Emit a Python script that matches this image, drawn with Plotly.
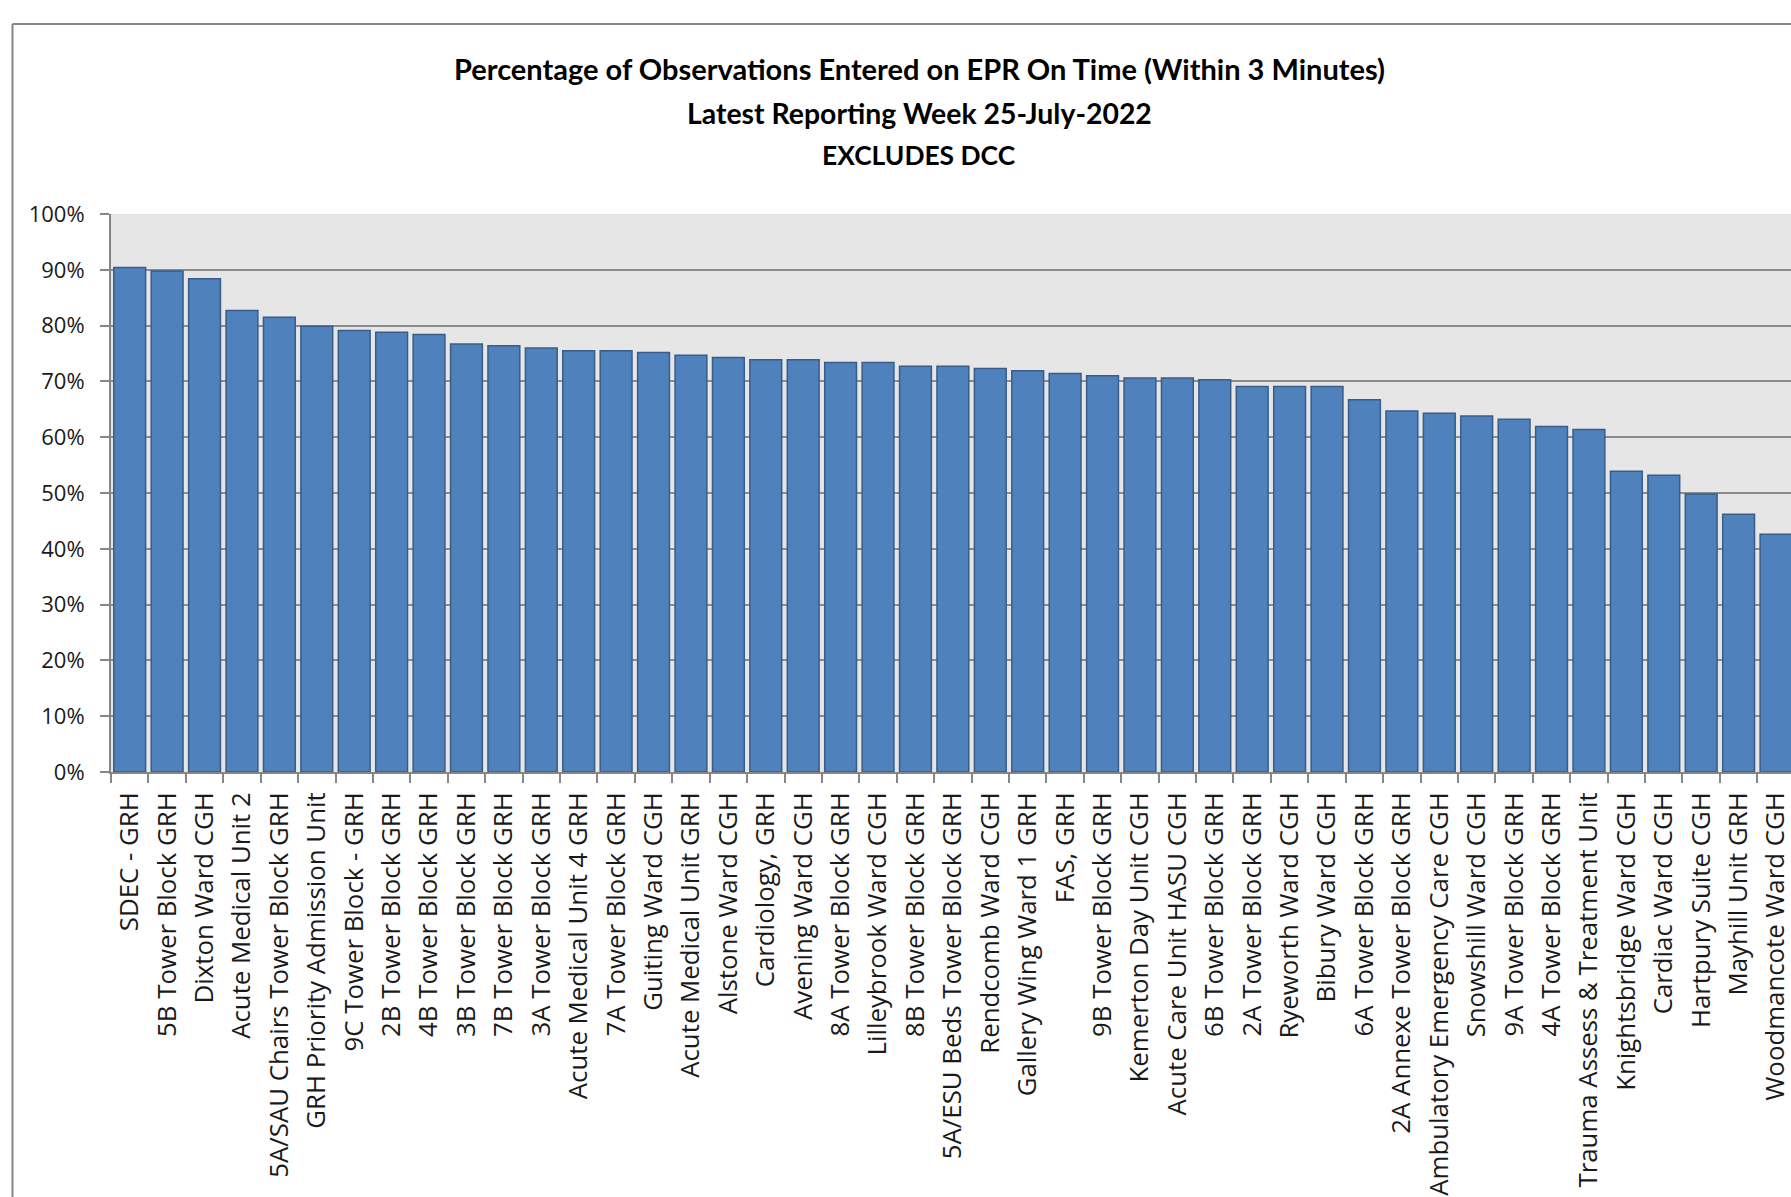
import plotly.graph_objects as go

categories = [
    "SDEC - GRH", "5B Tower Block GRH", "Dixton Ward CGH", "Acute Medical Unit 2",
    "5A/SAU Chairs Tower Block GRH", "GRH Priority Admission Unit", "9C Tower Block - GRH",
    "2B Tower Block GRH", "4B Tower Block GRH", "3B Tower Block GRH", "7B Tower Block GRH",
    "3A Tower Block GRH", "Acute Medical Unit 4 GRH", "7A Tower Block GRH", "Guiting Ward CGH",
    "Acute Medical Unit GRH", "Alstone Ward CGH", "Cardiology, GRH", "Avening Ward CGH",
    "8A Tower Block GRH", "Lilleybrook Ward CGH", "8B Tower Block GRH",
    "5A/ESU Beds Tower Block GRH", "Rendcomb Ward CGH", "Gallery Wing Ward 1 GRH", "FAS, GRH",
    "9B Tower Block GRH", "Kemerton Day Unit CGH", "Acute Care Unit HASU CGH",
    "6B Tower Block GRH", "2A Tower Block GRH", "Ryeworth Ward CGH", "Bibury Ward CGH",
    "6A Tower Block GRH", "2A Annexe Tower Block GRH", "Ambulatory Emergency Care CGH",
    "Snowshill Ward CGH", "9A Tower Block GRH", "4A Tower Block GRH",
    "Trauma Assess & Treatment Unit", "Knightsbridge Ward CGH", "Cardiac Ward CGH",
    "Hartpury Suite CGH", "Mayhill Unit GRH", "Woodmancote Ward CGH",
]

values_pct = [
    90.4, 89.8, 88.4, 82.7, 81.5, 79.9, 79.1, 78.8, 78.4, 76.7, 76.4, 76.0, 75.5,
    75.5, 75.2, 74.7, 74.3, 73.9, 73.9, 73.4, 73.4, 72.7, 72.7, 72.3, 71.9, 71.4,
    71.0, 70.6, 70.6, 70.3, 69.1, 69.1, 69.1, 66.7, 64.7, 64.3, 63.8, 63.2, 61.9,
    61.4, 53.9, 53.2, 49.8, 46.2, 42.6,
]

title_lines = [
    "Percentage of Observations Entered on EPR On Time (Within 3 Minutes)",
    "Latest Reporting Week 25-July-2022",
    "EXCLUDES DCC",
]

W, H = 1791, 1197
L, R, T, B = 111, 0, 214, 425
pw, ph = W - L - R, H - T - B

def px_x(x):
    return (x - L) / pw

def px_y(y):
    return (H - B - y) / ph

fig = go.Figure(go.Bar(
    x=categories, y=values_pct,
    marker=dict(color="#4F81BD", line=dict(color="#385D8A", width=1.5)),
))

annotations = []
for line, yc, fs in zip(title_lines, [68.5, 112.5, 155], [29, 28.4, 26.4]):
    annotations.append(dict(
        text="<b>" + line + "</b>", x=px_x(919), y=px_y(yc), xref="paper", yref="paper",
        xanchor="center", yanchor="middle", showarrow=False,
        font=dict(family="Lato, Liberation Sans", size=fs, color="#000000"),
    ))

shapes = [
    dict(type="line", xref="paper", yref="paper", x0=px_x(12.5), x1=px_x(12.5),
         y0=px_y(H + 5), y1=px_y(24), line=dict(color="#868686", width=2)),
    dict(type="line", xref="paper", yref="paper", x0=px_x(12.5), x1=px_x(W + 5),
         y0=px_y(24), y1=px_y(24), line=dict(color="#868686", width=2)),
]

fig.update_layout(
    width=W, height=H,
    margin=dict(l=L, r=R, t=T, b=B, pad=0),
    paper_bgcolor="white", plot_bgcolor="#E6E6E6",
    bargap=0.15, showlegend=False,
    annotations=annotations, shapes=shapes,
    font=dict(family="Open Sans, Noto Sans, sans-serif", color="#1A1A1A"),
)
fig.update_xaxes(
    type="category", range=[-0.5, 44.4], tickangle=-90,
    ticks="outside", tickson="boundaries", ticklen=9, tickcolor="#868686", tickwidth=1.5,
    showline=True, linecolor="#868686", linewidth=2, showgrid=False,
    tickfont=dict(size=25.8, family="Open Sans, Noto Sans, sans-serif", color="#1A1A1A"),
    ticklabelstandoff=8,
)
fig.update_yaxes(
    range=[0, 100], dtick=10, tick0=0, ticksuffix="%",
    ticks="outside", ticklen=9, tickcolor="#868686", tickwidth=1.5,
    showline=True, linecolor="#868686", linewidth=2,
    showgrid=True, gridcolor="#8C8C8C", gridwidth=2, zeroline=False,
    tickfont=dict(size=22, family="Open Sans, Noto Sans, sans-serif", color="#1A1A1A"),
    ticklabelstandoff=11,
)

fig.write_html("out.html")
